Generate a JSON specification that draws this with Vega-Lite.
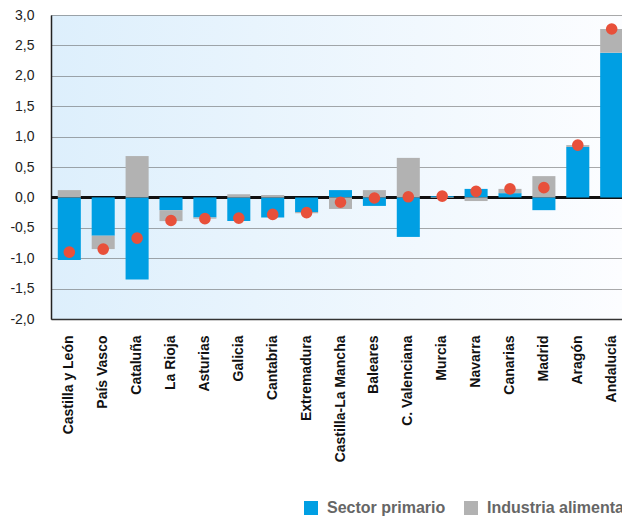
{
  "$schema": "https://vega.github.io/schema/vega-lite/v6.json",
  "width": 571,
  "height": 304,
  "autosize": {"type": "none"},
  "padding": {"left": 51, "top": 15, "right": 0, "bottom": 199},
  "background": "#ffffff",
  "view": {
    "stroke": null,
    "fill": {
      "gradient": "linear",
      "x1": 0, "y1": 0, "x2": 1, "y2": 0,
      "stops": [
        {"offset": 0, "color": "#DDEFFC"},
        {"offset": 1, "color": "#FCFDFF"}
      ]
    }
  },
  "config": {
    "axisY": {
      "title": null,
      "values": [-2, -1.5, -1, -0.5, 0, 0.5, 1, 1.5, 2, 2.5, 3],
      "labelExpr": "replace(replace(format(datum.value, '.1f'), '.', ','), '\u2212', '-')",
      "labelOverlap": false,
      "labelFont": "Liberation Sans",
      "labelFontSize": 14,
      "labelColor": "#222222",
      "labelPadding": 17,
      "ticks": false,
      "domainColor": "#222222",
      "domainWidth": 1.5,
      "grid": true,
      "gridColor": "#555555",
      "gridDash": [1, 1],
      "gridWidth": 1
    }
  },
  "data": {
    "values": [
      {"region": "Castilla y León", "Sector primario": -1.03, "Industria alimentaria": 0.12, "total": -0.90},
      {"region": "País Vasco", "Sector primario": -0.63, "Industria alimentaria": -0.22, "total": -0.85},
      {"region": "Cataluña", "Sector primario": -1.35, "Industria alimentaria": 0.68, "total": -0.67},
      {"region": "La Rioja", "Sector primario": -0.21, "Industria alimentaria": -0.18, "total": -0.38},
      {"region": "Asturias", "Sector primario": -0.33, "Industria alimentaria": -0.02, "total": -0.35},
      {"region": "Galicia", "Sector primario": -0.39, "Industria alimentaria": 0.05, "total": -0.34},
      {"region": "Cantabria", "Sector primario": -0.33, "Industria alimentaria": 0.04, "total": -0.28},
      {"region": "Extremadura", "Sector primario": -0.24, "Industria alimentaria": -0.02, "total": -0.25},
      {"region": "Castilla-La Mancha", "Sector primario": 0.12, "Industria alimentaria": -0.19, "total": -0.08},
      {"region": "Baleares", "Sector primario": -0.14, "Industria alimentaria": 0.12, "total": -0.01},
      {"region": "C. Valenciana", "Sector primario": -0.65, "Industria alimentaria": 0.65, "total": 0.01},
      {"region": "Murcia", "Sector primario": 0.02, "Industria alimentaria": -0.01, "total": 0.02},
      {"region": "Navarra", "Sector primario": 0.14, "Industria alimentaria": -0.06, "total": 0.10},
      {"region": "Canarias", "Sector primario": 0.07, "Industria alimentaria": 0.07, "total": 0.14},
      {"region": "Madrid", "Sector primario": -0.21, "Industria alimentaria": 0.35, "total": 0.16},
      {"region": "Aragón", "Sector primario": 0.83, "Industria alimentaria": 0.03, "total": 0.86},
      {"region": "Andalucía", "Sector primario": 2.38, "Industria alimentaria": 0.39, "total": 2.77}
    ]
  },
  "encoding": {
    "x": {
      "field": "region",
      "type": "nominal",
      "sort": null,
      "scale": {"range": [0, 579], "paddingInner": 0.32, "paddingOuter": 0.2},
      "axis": {
        "title": null,
        "labelAngle": -90,
        "labelFont": "Liberation Sans",
        "labelFontSize": 14,
        "labelFontWeight": "bold",
        "labelColor": "#111111",
        "labelPadding": 16,
        "ticks": false,
        "domainColor": "#333333",
        "domainWidth": 1.5,
        "grid": false
      }
    }
  },
  "layer": [
    {
      "mark": {"type": "rule", "color": "#111111", "strokeWidth": 1.5},
      "encoding": {"x": null, "y": {"datum": 0, "type": "quantitative"}}
    },
    {
      "transform": [
        {"fold": ["Sector primario", "Industria alimentaria"], "as": ["serie", "valor"]}
      ],
      "mark": {"type": "bar"},
      "encoding": {
        "y": {
          "field": "valor",
          "type": "quantitative",
          "stack": "zero",
          "scale": {"domain": [-2, 3], "nice": false, "zero": false}
        },
        "color": {
          "field": "serie",
          "type": "nominal",
          "scale": {
            "domain": ["Sector primario", "Industria alimentaria"],
            "range": ["#009FE3", "#B2B2B2"]
          },
          "legend": {
            "title": null,
            "orient": "none",
            "direction": "horizontal",
            "legendX": 252,
            "legendY": 485,
            "padding": 0,
            "symbolType": "square",
            "symbolSize": 196,
            "symbolStrokeWidth": 0,
            "symbolOpacity": 1,
            "labelFont": "Liberation Sans",
            "labelFontSize": 16,
            "labelFontWeight": "bold",
            "labelColor": "#666666",
            "labelOffset": 8,
            "columnPadding": 17,
            "labelLimit": 400
          }
        },
        "order": {"field": "serie", "sort": "descending"}
      }
    },
    {
      "mark": {"type": "circle", "color": "#E8503A", "opacity": 1, "size": 135},
      "encoding": {
        "y": {"field": "total", "type": "quantitative"}
      }
    }
  ]
}
